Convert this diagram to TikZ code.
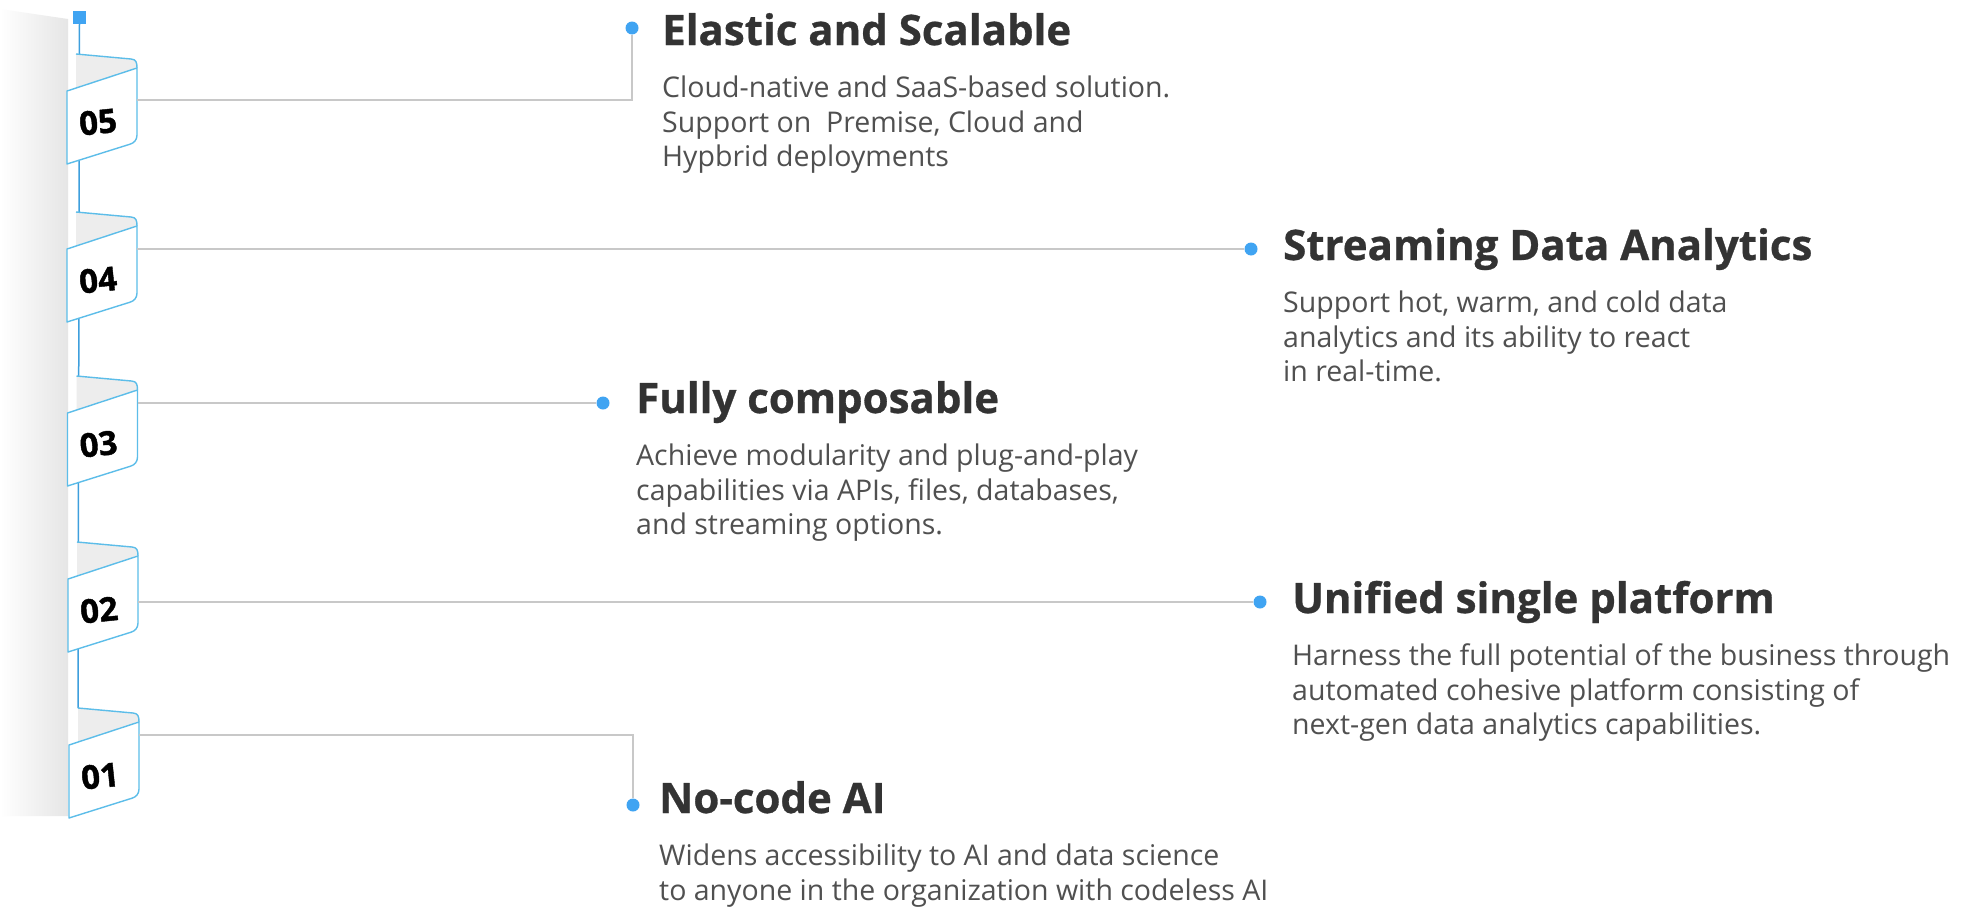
\documentclass[tikz,border=0pt]{standalone}
\usepackage{fontspec}
\setmainfont[BoldFeatures={FakeBold=0.7}]{Open Sans}
\newfontfamily\numfont[BoldFeatures={FakeBold=1.3}]{Open Sans}
\definecolor{flagblue}{HTML}{5CBDE9}
\definecolor{lineblue}{HTML}{3E9FDD}
\definecolor{dotblue}{HTML}{40A4F2}
\definecolor{conngray}{HTML}{C8C8C8}
\definecolor{backgray}{HTML}{EDEDED}
\definecolor{titlecol}{HTML}{333333}
\definecolor{bodycol}{HTML}{505050}
\tikzset{
  flagline/.style={draw=flagblue, line width=1.4pt, line join=round},
  mainline/.style={draw=lineblue, line width=1.5pt},
  conn/.style={draw=conngray, line width=1.5pt},
  dotnode/.style={circle, fill=dotblue, inner sep=0pt, minimum size=13pt},
  sqnode/.style={rectangle, fill=dotblue, inner sep=0pt, minimum size=13pt},
  numtext/.style={font=\fontsize{33}{33}\selectfont\numfont\bfseries, text=black, inner sep=0pt},
  titletext/.style={anchor=base west, inner sep=0pt, text=titlecol, font=\fontsize{42}{50}\selectfont\bfseries},
  bodytext/.style={anchor=base west, inner sep=0pt, text=bodycol, font=\fontsize{28.5}{34.5}\selectfont},
  tabflag/.pic={
    \fill[backgray] (76,-37) -- (131,-32) .. controls (136,-31.5) and (137,-29) .. (137,-23) -- (76,-3) -- cycle;
    \draw[flagline] (76,-37) -- (131,-32) .. controls (136,-31.5) and (137,-29) .. (137,-23);
    \filldraw[fill=white, flagline] (67,0) -- (137,-23) -- (137,44) .. controls (137,49) and (134,52) .. (130,53.2) -- (67,73) -- cycle;
    \node[numtext, rotate=6] (-num) at (98,31) {#1};
  }
}
\begin{document}
\begin{tikzpicture}[x=1pt, y=-1pt]
\useasboundingbox (0,0) rectangle (1974,910);
\fill[white] (0,0) rectangle (1974,910);
% shadow on the left
\shade[left color=white, right color=black!10] (0,9) -- (68,19) -- (68,816) -- (0,816) -- cycle;
% top square and main spine
\node[sqnode] (sq) at (79.5,17.5) {};
\coordinate (spineend) at (78,708);
\draw[mainline] (sq.south) -- (spineend);
% flags
\pic (f5) at (0,91) {tabflag=05};
\pic (f4) at (0,249) {tabflag=04};
\pic (f3) at (0.5,413) {tabflag=03};
\pic (f2) at (1,579) {tabflag=02};
\pic (f1) at (2,745) {tabflag=01};
% connector start points
\coordinate (c5) at (137,100);
\coordinate (c4) at (137,249);
\coordinate (c3) at (137.5,403);
\coordinate (c2) at (138,602);
\coordinate (c1) at (139,735);
% dots
\node[dotnode] (d5) at (632,28) {};
\node[dotnode] (d4) at (1251,249) {};
\node[dotnode] (d3) at (603,403) {};
\node[dotnode] (d2) at (1260,602) {};
\node[dotnode] (d1) at (633,805) {};
% connectors
\draw[conn] (c5) -| (d5);
\draw[conn] (c4) -- (d4);
\draw[conn] (c3) -- (d3);
\draw[conn] (c2) -- (d2);
\draw[conn] (c1) -| (d1);
% item 05
\node[titletext] (t5) at (662,45) {Elastic and Scalable};
\node[bodytext] (b5a) at (662,97) {Cloud-native and SaaS-based solution.};
\node[bodytext] (b5b) at (662,132) {Support on\ \ Premise, Cloud and};
\node[bodytext] (b5c) at (662,166) {Hypbrid deployments};
% item 04
\node[titletext] (t4) at (1283,260) {Streaming Data Analytics};
\node[bodytext] (b4a) at (1283,312) {Support hot, warm, and cold data};
\node[bodytext] (b4b) at (1283,347) {analytics and its ability to react};
\node[bodytext] (b4c) at (1283,381) {in real-time.};
% item 03
\node[titletext] (t3) at (636,413) {Fully composable};
\node[bodytext] (b3a) at (636,465) {Achieve modularity and plug-and-play};
\node[bodytext] (b3b) at (636,500) {capabilities via APIs, files, databases,};
\node[bodytext] (b3c) at (636,534) {and streaming options.};
% item 02
\node[titletext] (t2) at (1292,613) {Unified single platform};
\node[bodytext] (b2a) at (1292,665) {Harness the full potential of the business through};
\node[bodytext] (b2b) at (1292,700) {automated cohesive platform consisting of};
\node[bodytext] (b2c) at (1292,734) {next-gen data analytics capabilities.};
% item 01
\node[titletext] (t1) at (659,813) {No-code AI};
\node[bodytext] (b1a) at (659,865) {Widens accessibility to AI and data science};
\node[bodytext] (b1b) at (659,900) {to anyone in the organization with codeless AI};
\end{tikzpicture}
\end{document}
